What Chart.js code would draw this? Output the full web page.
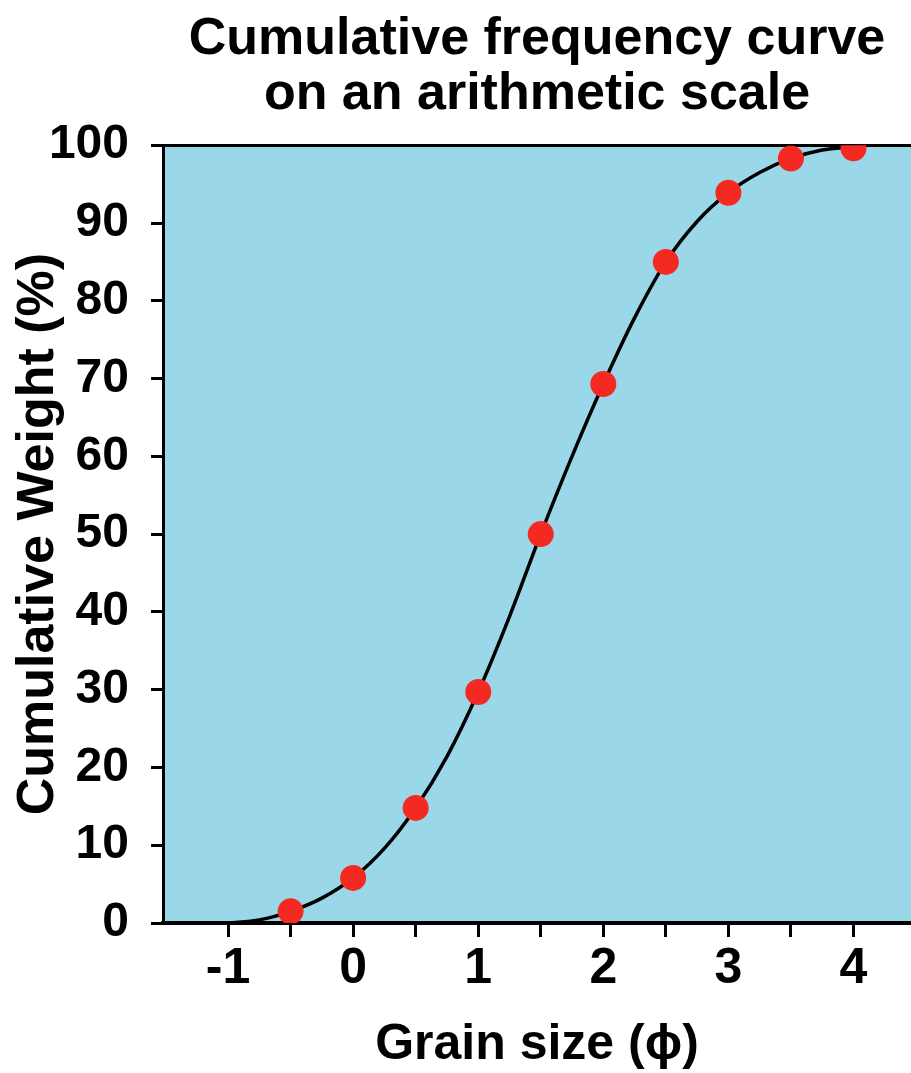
<!DOCTYPE html>
<html>
<head>
<meta charset="utf-8">
<script src="https://cdn.jsdelivr.net/npm/chart.js@4/dist/chart.umd.min.js"></script>
<style>
  html, body { margin: 0; padding: 0; background: #fff; }
</style>
</head>
<body>
<canvas id="chart" width="911" height="1073"></canvas>
<script>
// sample points (grain size in phi, cumulative weight %)
const sampleX = [-0.5, 0, 0.5, 1, 1.5, 2, 2.5, 3, 3.5, 4];
const sampleY = [1.5, 5.8, 14.8, 29.7, 50, 69.3, 85, 93.9, 98.3, 99.6];

// fitted curve
const curveX = [-1, -0.75, -0.5, -0.25, 0, 0.25, 0.5, 0.75, 1, 1.25, 1.5, 1.75, 2, 2.25, 2.5, 2.75, 3, 3.25, 3.5, 3.75, 4];
const curveY = [0, 0.4, 1.5, 3.2, 5.8, 9.6, 14.8, 21.4, 29.7, 39.4, 50, 60, 69.3, 77.8, 85, 90.2, 93.9, 96.5, 98.3, 99.4, 99.8];

const yTicks = [0, 10, 20, 30, 40, 50, 60, 70, 80, 90, 100];
const xLabels = [-1, 0, 1, 2, 3, 4];

const FONT = "'Liberation Sans', Arial, sans-serif";

const plotBg = {
    id: "plotBg",
    beforeDraw(chart) {
        const a = chart.chartArea;
        const c = chart.ctx;
        c.save();
        c.fillStyle = "#9AD8E9";
        c.fillRect(a.left, a.top, a.right - a.left, a.bottom - a.top);
        c.restore();
    }
};

const ctx = document.getElementById("chart");

new Chart(ctx, {
    type: "scatter",
    data: {
        datasets: [
            {
                label: "samples",
                data: sampleX.map((x, i) => ({ x: x, y: sampleY[i] })),
                backgroundColor: "#F42A22",
                borderWidth: 0,
                pointRadius: 13,
                clip: 0
            },
            {
                label: "curve",
                data: curveX.map((x, i) => ({ x: x, y: curveY[i] })),
                showLine: true,
                borderColor: "#000",
                borderWidth: 3.5,
                pointRadius: 0,
                cubicInterpolationMode: "monotone",
                clip: 0
            }
        ]
    },
    options: {
        responsive: false,
        animation: false,
        layout: { padding: 0, autoPadding: false },
        plugins: {
            legend: { display: false },
            tooltip: { enabled: false },
            title: {
                display: true,
                fullSize: false,
                text: ["Cumulative frequency curve", "on an arithmetic scale"],
                color: "#000",
                font: { family: FONT, size: 52, weight: "bold", lineHeight: 1.06 },
                padding: { top: 12, bottom: 23 }
            }
        },
        scales: {
            x: {
                type: "linear",
                min: -1.52,
                max: 4.46,
                afterFit: (s) => { s.height = 150; s.paddingLeft = 0; s.paddingRight = 0; },
                border: { color: "#000", width: 4 },
                grid: {
                    drawOnChartArea: false,
                    tickLength: 14,
                    tickWidth: 3,
                    tickColor: (c) => (c.tick && c.tick.value < -1 ? "transparent" : "#000")
                },
                ticks: {
                    stepSize: 0.5,
                    includeBounds: false,
                    maxRotation: 0,
                    autoSkip: false,
                    padding: 2,
                    color: "#000",
                    font: { family: FONT, size: 50, weight: "bold" },
                    callback: (v) => (xLabels.includes(v) ? String(v) : "")
                },
                title: {
                    display: true,
                    text: "Grain size (\u03D5)",
                    color: "#000",
                    font: { family: FONT, size: 50, weight: "bold", lineHeight: 1.0 },
                    padding: { top: 0, bottom: 3 }
                }
            },
            y: {
                min: 0,
                max: 100,
                afterFit: (s) => { s.width = 163; },
                afterBuildTicks: (s) => { s.ticks = yTicks.map(v => ({ value: v })); },
                border: { color: "#000", width: 3 },
                grid: {
                    color: (c) => (c.tick && c.tick.value === 100 ? "#000" : "transparent"),
                    lineWidth: 3,
                    tickLength: 12,
                    tickWidth: 3,
                    tickColor: "#000"
                },
                ticks: {
                    padding: 22,
                    color: "#000",
                    font: { family: FONT, size: 48, weight: "bold" }
                },
                title: {
                    display: true,
                    text: "Cumulative Weight (%)",
                    color: "#000",
                    font: { family: FONT, size: 52, weight: "bold", lineHeight: 1.2 },
                    padding: { top: 7, bottom: 0 }
                }
            }
        }
    },
    plugins: [plotBg]
});
</script>
</body>
</html>
